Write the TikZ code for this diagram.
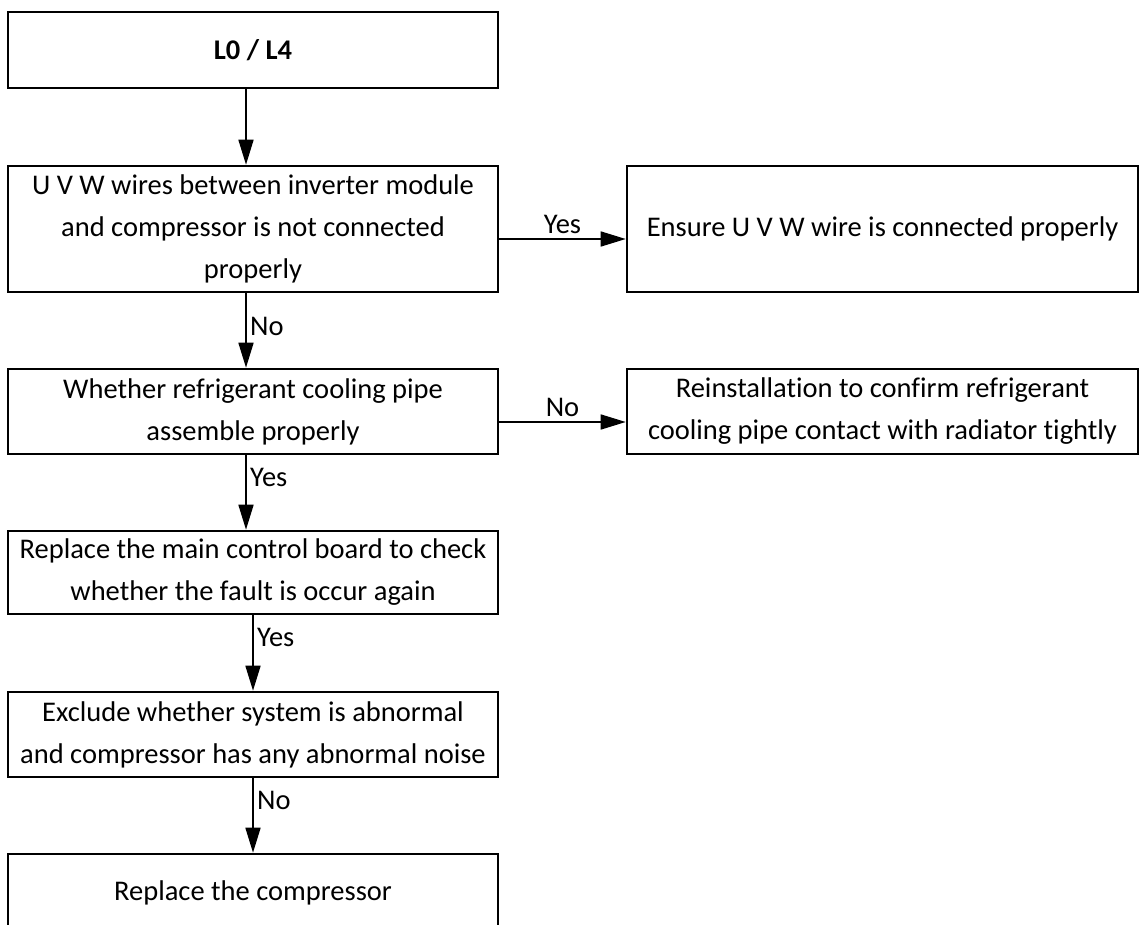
\documentclass[tikz,border=0pt]{standalone}
\usepackage{fontspec}
\setmainfont{Carlito}[Ligatures=NoCommon]
\usetikzlibrary{arrows.meta}

\tikzset{
  box/.style={draw, line width=2.6pt, minimum width=490pt, align=center, inner sep=0pt},
  wide/.style={box, minimum width=511pt},
  flow/.style={->, line width=1.7pt},
}

\begin{document}
\begin{tikzpicture}[x=1pt,y=-1pt,>={Triangle[length=25pt,width=15pt]},
    font=\fontsize{28.5}{42}\selectfont]
  \useasboundingbox (0,0) rectangle (1140,925);
  \clip (0,0) rectangle (1140,925);
  % left column
  \node[box,minimum height=76pt]  (code)    at (253,50)    {\bfseries L0 / L4};
  \node[box,minimum height=126pt] (wires)   at (253,229)   {U V W wires between inverter module\\and compressor is not connected\\properly};
  \node[box,minimum height=85pt]  (pipe)    at (253,411.5) {Whether refrigerant cooling pipe\\assemble properly};
  \node[box,minimum height=83pt]  (board)   at (253,572.5) {Replace the main control board to check\\whether the fault is occur again};
  \node[box,minimum height=85pt]  (noise)   at (253,734.5) {Exclude whether system is abnormal\\and compressor has any abnormal noise};
  \node[box,minimum height=78pt]  (comp)    at (253,893)   {Replace the compressor};
  % right column
  \node[wide,minimum height=126pt] (ensure) at (882.5,229)   {Ensure U V W wire is connected properly};
  \node[wide,minimum height=85pt]  (reinst) at (882.5,411.5) {Reinstallation to confirm refrigerant\\cooling pipe contact with radiator tightly};

  \draw[flow] ([xshift=-7pt]code.south) -- ([xshift=-7pt]wires.north);
  \draw[flow] ([xshift=-7pt]wires.south) -- node[right,pos=0.45]{No} ([xshift=-7pt]pipe.north);
  \draw[flow] ([xshift=-7pt]pipe.south) -- node[right,pos=0.3]{Yes} ([xshift=-7pt]board.north);
  \draw[flow] (board.south) -- node[right,pos=0.3]{Yes} (noise.north);
  \draw[flow] (noise.south) -- node[right,pos=0.3]{No} (comp.north);
  \draw[flow] ([yshift=-10pt]wires.east) -- node[above=1pt]{Yes} ([yshift=-10pt]ensure.west);
  \draw[flow] ([yshift=-10.5pt]pipe.east) -- node[above=1pt]{No} ([yshift=-10.5pt]reinst.west);
\end{tikzpicture}
\end{document}
